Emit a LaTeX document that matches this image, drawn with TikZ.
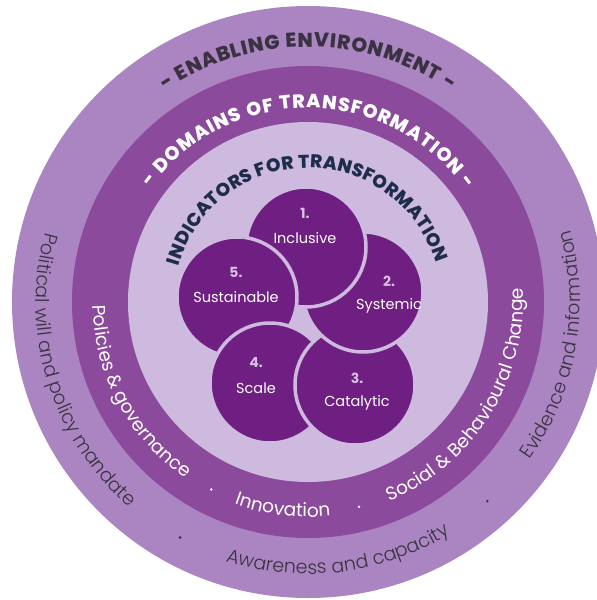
\documentclass[tikz,border=0pt]{standalone}
\usepackage{fontspec}
\setmainfont{Poppins}
\newfontfamily\thinfont{Poppins Light}
\newfontfamily\heavyfont{Poppins ExtraBold}
\usetikzlibrary{decorations.text}

\definecolor{outerring}{RGB}{170,133,194}
\definecolor{domainring}{RGB}{139,74,156}
\definecolor{domainedge}{RGB}{96,36,114}
\definecolor{innerfill}{RGB}{206,185,223}
\definecolor{inneredge}{RGB}{125,131,156}
\definecolor{petal}{RGB}{111,31,129}
\definecolor{petalnum}{RGB}{214,192,226}
\definecolor{navy}{RGB}{30,45,75}
\definecolor{greytext}{RGB}{58,50,64}

\pgfdeclareradialshading{domainshade}{\pgfpoint{0bp}{0bp}}{color(0bp)=(domainring); color(43bp)=(domainring); color(50bp)=(domainedge)}
\pgfdeclareradialshading{innershade}{\pgfpoint{0bp}{0bp}}{color(0bp)=(innerfill); color(41bp)=(innerfill); color(50bp)=(inneredge)}

\begin{document}
\begin{tikzpicture}[x=1pt,y=1pt,node distance=25pt,
  petal node/.style={circle,fill=petal,draw=innerfill,line width=3.5pt,minimum size=120pt,inner sep=0pt},
  num node/.style={font=\fontsize{14}{14}\selectfont\bfseries,text=petalnum},
  word node/.style={font=\fontsize{14.5}{15}\selectfont,text=white}]

  \useasboundingbox (-308,-298) rectangle (289,302);

  % rings
  \fill[outerring] (0,0) circle (296pt);
  \shade[shading=domainshade] (0,0) circle (236pt);
  \shade[shading=innershade] (0,0) circle (180pt);

  % the five indicators as a pinwheel: each one lies over the next
  \node[petal node] (5) at (-71,5) {};
  \node[petal node] (4) at (-38,-81) {};
  \node[petal node] (3) at (47,-83) {};
  \node[petal node] (2) at (55,10) {};
  \node[petal node] (1) at (-2,55) {};
  \begin{scope}
    \clip (1.center) circle (63pt);
    \fill[petal,draw=innerfill,line width=3.5pt] (5.center) circle (60pt);
  \end{scope}

  \node[word node] (w1) at (-3,64) {Inclusive};
  \node[num node] (n1) [above of=w1] {1.};
  \node[word node] (w2) at (81,-4) {Systemic};
  \node[num node] (n2) [above of=w2] {2.};
  \node[word node] (w3) at (49,-101) {Catalytic};
  \node[num node] (n3) [above of=w3] {3.};
  \node[word node] (w4) at (-52,-86) {Scale};
  \node[num node] (n4) [above of=w4] {4.};
  \node[word node] (w5) at (-72,5) {Sustainable};
  \node[num node] (n5) [above of=w5] {5.};

  % titles
  \path[decorate,decoration={text along path,text align={fit to path},
    text={|\fontsize{20}{20}\heavyfont\color{greytext}|- ENABLING ENVIRONMENT -}}]
    (124:255pt) arc[start angle=124,end angle=56,radius=255pt];
  \path[decorate,decoration={text along path,text align={fit to path},
    text={|\fontsize{19}{19}\heavyfont\color{white}|- DOMAINS OF TRANSFORMATION -}}]
    (144:194pt) arc[start angle=144,end angle=35.5,radius=194pt];
  \path[decorate,decoration={text along path,text align={fit to path},
    text={|\fontsize{18.5}{19}\heavyfont\color{navy}|INDICATORS FOR TRANSFORMATION}}]
    (164.5:134pt) arc[start angle=164.5,end angle=17,radius=134pt];

  % domains
  \path[decorate,decoration={text along path,text align=center,
    text={|\fontsize{18.5}{19}\selectfont\color{white}|Policies {\&} governance}}]
    (148:215pt) arc[start angle=148,end angle=268,radius=215pt];
  \path[decorate,decoration={text along path,text align=center,
    text={|\fontsize{18.5}{19}\selectfont\color{white}|Innovation}}]
    (213:215pt) arc[start angle=213,end angle=313,radius=215pt];
  \path[decorate,decoration={text along path,text align=center,
    text={|\fontsize{18.5}{19}\selectfont\color{white}|Social {\&} Behavioural Change}}]
    (268:215pt) arc[start angle=268,end angle=388,radius=215pt];
  \fill[white] (242.7:211pt) circle (1.4pt);
  \fill[white] (284:211pt) circle (1.4pt);

  % enabling environment
  \path[decorate,decoration={text along path,text align=center,
    text={|\fontsize{19}{19}\thinfont\color{greytext}|Political will and policy mandate}}]
    (127:272pt) arc[start angle=127,end angle=267,radius=272pt];
  \path[decorate,decoration={text along path,text align=center,
    text={|\fontsize{19}{19}\thinfont\color{greytext}|Awareness and capacity}}]
    (217:272pt) arc[start angle=217,end angle=337,radius=272pt];
  \path[decorate,decoration={text along path,text align=center,
    text={|\fontsize{19}{19}\thinfont\color{greytext}|Evidence and information}}]
    (290:272pt) arc[start angle=290,end angle=410,radius=272pt];
  \fill[greytext] (241.5:268pt) circle (1.4pt);
  \fill[greytext] (312:268pt) circle (1.4pt);
\end{tikzpicture}
\end{document}
